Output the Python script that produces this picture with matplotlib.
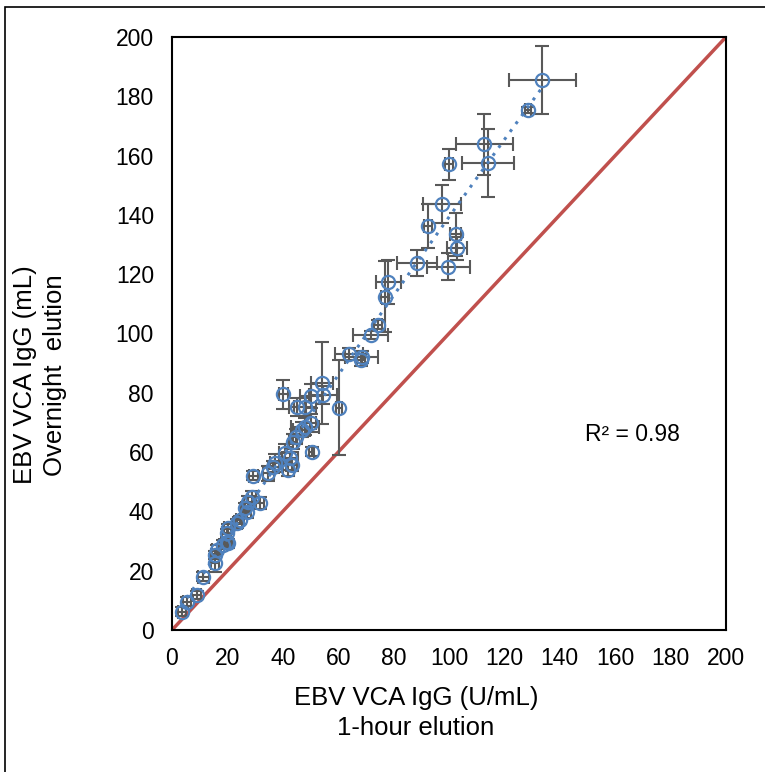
import numpy as np
import matplotlib
matplotlib.use("Agg")
from matplotlib import pyplot as plt
from matplotlib.patches import Rectangle

plt.rcParams['font.family'] = ['Liberation Sans', 'DejaVu Sans']

# 1-hour elution (x) vs overnight elution (y), with error bars
x = [133.7, 128.6, 112.7, 114.2, 100.0, 97.4, 92.5, 102.5, 103.0, 88.3,
     99.8, 78.1, 76.9, 74.3, 71.7, 64.0, 68.5, 68.3, 54.0, 60.3,
     40.2, 50.2, 54.6, 45.2, 48.0, 50.0, 48.0, 46.8, 44.8, 43.8,
     50.4, 40.8, 42.6, 37.2, 36.6, 43.2, 42.0, 29.4, 34.8, 28.8,
     27.6, 31.8, 26.4, 27.0, 24.5, 23.6, 20.3, 19.7, 19.7, 18.5,
     20.3, 16.1, 15.5, 15.5, 11.3, 8.9, 5.3, 3.5]
y = [185.5, 175.4, 163.8, 157.6, 157.0, 143.7, 136.3, 133.4, 128.7, 123.7,
     122.5, 117.3, 112.4, 102.9, 99.5, 93.1, 92.2, 91.0, 83.4, 75.0,
     79.5, 78.9, 79.3, 75.1, 75.3, 69.9, 68.6, 67.5, 65.2, 63.5,
     60.1, 59.6, 57.9, 56.2, 55.1, 55.6, 54.0, 52.1, 52.8, 45.0,
     43.3, 42.7, 41.0, 39.9, 37.1, 36.0, 34.3, 32.6, 29.8, 28.7,
     29.2, 27.0, 25.3, 22.5, 18.0, 11.8, 9.5, 6.2]
x_err = [12.2, 1.0, 10.3, 9.4, 1.5, 6.8, 1.5, 2.0, 3.6, 7.2,
         7.8, 4.5, 1.5, 1.5, 6.3, 5.0, 5.9, 1.5, 4.0, 1.0,
         1.5, 4.0, 5.0, 3.0, 4.0, 2.0, 5.0, 3.0, 2.0, 1.5,
         1.0, 2.0, 3.0, 2.0, 2.0, 2.0, 2.0, 1.5, 2.0, 1.5,
         1.5, 1.5, 1.5, 1.5, 1.5, 1.5, 1.5, 1.5, 1.5, 1.5,
         1.5, 1.5, 1.5, 1.5, 2.0, 1.5, 1.5, 1.5]
y_err = [11.4, 1.0, 10.2, 11.5, 5.2, 6.4, 7.5, 7.3, 4.0, 4.3,
         4.5, 7.5, 12.0, 1.5, 1.5, 2.0, 2.0, 2.0, 13.8, 16.0,
         4.8, 4.0, 3.0, 3.0, 3.0, 3.0, 3.0, 2.5, 2.5, 2.5,
         1.5, 3.0, 2.0, 3.0, 2.0, 2.0, 2.0, 1.5, 2.5, 2.0,
         2.0, 2.0, 2.0, 2.0, 1.5, 1.5, 1.5, 1.5, 1.5, 1.5,
         1.5, 1.5, 1.5, 3.0, 1.5, 1.5, 1.5, 1.5]
r2_label = "R² = 0.98"

fig = plt.figure(figsize=(7.65, 7.72), dpi=100)
ax = fig.add_axes([172 / 765, 1 - 630 / 772, 554 / 765, 593 / 772])

# outer frame of the figure (only left and top visible)
fig.patches.append(Rectangle((5 / 765, -0.1), 1.2, 1.1 - 7 / 772,
                             transform=fig.transFigure, fill=False,
                             edgecolor='black', linewidth=1.2))

# identity line
ax.plot([0, 200], [0, 200], color='#C0504D', linewidth=2.5, zorder=2)

ax.errorbar(x, y, xerr=x_err, yerr=y_err, fmt='none', ecolor='#595959',
            elinewidth=1.5, capsize=5, capthick=1.5, zorder=3)
ax.plot(x, y, 'o', markersize=9.5, markerfacecolor='none',
        markeredgecolor='#4F81BD', markeredgewidth=1.6, zorder=4)

# polynomial trendline
coef = np.polyfit(x, y, 2)
xs = np.linspace(min(x), max(x), 200)
ax.plot(xs, np.polyval(coef, xs), linestyle=(0, (1, 2.2)), color='#4F81BD',
        linewidth=2.2, zorder=5)

ax.text(149, 65.8, r2_label, fontsize=16.5, va='center', ha='left')

ax.set_xlim(0, 200)
ax.set_ylim(0, 200)
ax.set_xticks(range(0, 201, 20))
ax.set_yticks(range(0, 201, 20))
ax.tick_params(axis='y', length=0, labelsize=16.5, pad=13)
ax.tick_params(axis='x', length=0, labelsize=16.5, pad=12)
for s in ax.spines.values():
    s.set_linewidth(1.5)
    s.set_color('black')

ax.set_xlabel("EBV VCA IgG (U/mL)\n1-hour elution", fontsize=18.5,
              linespacing=1.3)
ax.set_ylabel("EBV VCA IgG (mL)\nOvernight  elution", fontsize=18.5,
              linespacing=1.3)
ax.xaxis.set_label_coords(0.44, -0.095)
ax.yaxis.set_label_coords(-0.19, 0.43)

fig.savefig("out.png", dpi=100)
